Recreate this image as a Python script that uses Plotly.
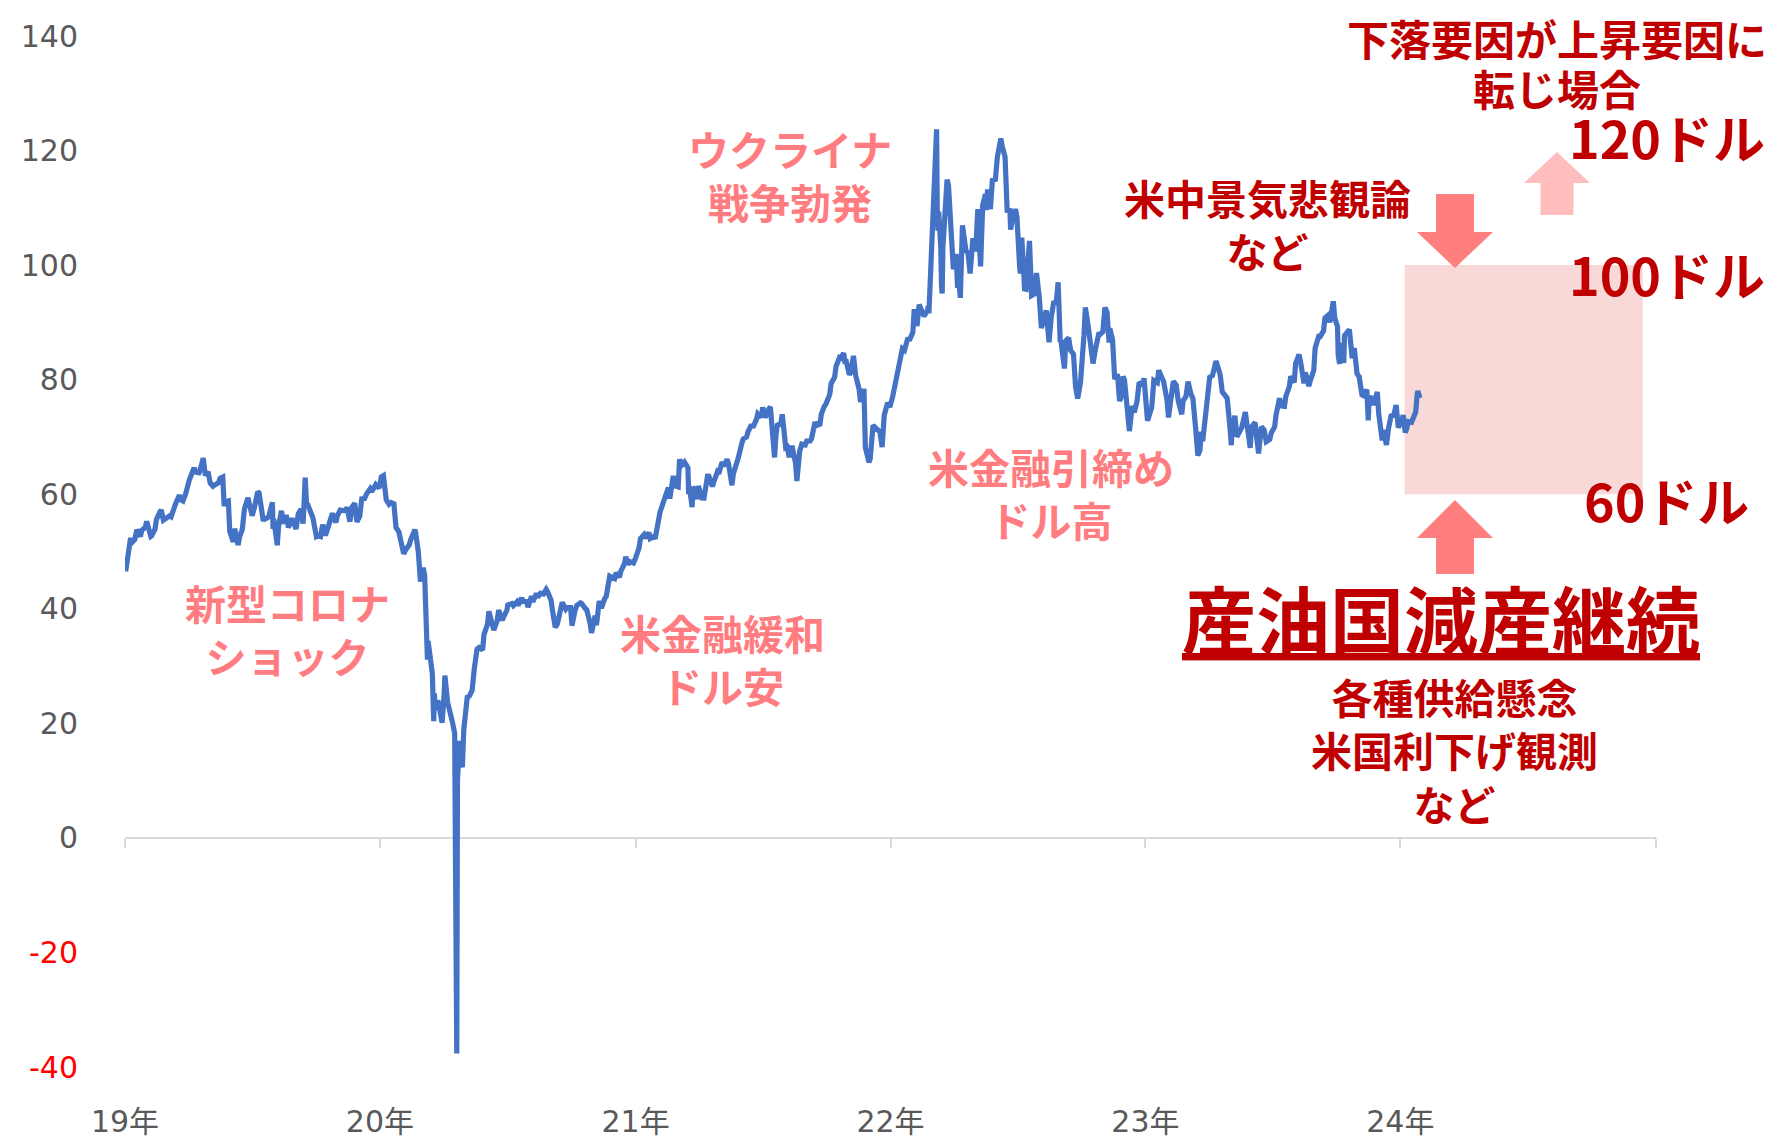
import plotly.graph_objects as go

# ---------------- data (WTI crude, USD/bbl) ----------------
dates_2019 = ["2019-01-02","2019-01-04","2019-01-09","2019-01-11","2019-01-15","2019-01-18","2019-01-23","2019-01-25","2019-01-30","2019-02-01",
"2019-02-07","2019-02-08","2019-02-13","2019-02-15","2019-02-20","2019-02-22","2019-02-25","2019-03-01","2019-03-06","2019-03-08",
"2019-03-13","2019-03-15","2019-03-20","2019-03-22","2019-03-25","2019-03-29","2019-04-03","2019-04-05","2019-04-10","2019-04-12",
"2019-04-17","2019-04-18","2019-04-23","2019-04-26","2019-04-30","2019-05-03","2019-05-07","2019-05-10","2019-05-15","2019-05-17",
"2019-05-21","2019-05-23","2019-05-24","2019-05-29","2019-05-31","2019-06-05","2019-06-07","2019-06-12","2019-06-14","2019-06-18",
"2019-06-20","2019-06-21","2019-06-26","2019-06-28","2019-07-02","2019-07-05","2019-07-10","2019-07-12","2019-07-16","2019-07-18",
"2019-07-19","2019-07-24","2019-07-26","2019-07-31","2019-08-01","2019-08-02","2019-08-07","2019-08-09","2019-08-13","2019-08-16",
"2019-08-20","2019-08-23","2019-08-28","2019-08-30","2019-09-03","2019-09-06","2019-09-10","2019-09-13","2019-09-16","2019-09-18",
"2019-09-20","2019-09-25","2019-09-27","2019-10-02","2019-10-04","2019-10-08","2019-10-11","2019-10-15","2019-10-18","2019-10-23",
"2019-10-25","2019-10-30","2019-11-01","2019-11-05","2019-11-08","2019-11-13","2019-11-15","2019-11-19","2019-11-22","2019-11-26",
"2019-11-29","2019-12-03","2019-12-06","2019-12-10","2019-12-13","2019-12-18","2019-12-20","2019-12-26","2019-12-31"]
wti_2019 = [46.54,47.96,52.36,51.59,52.11,53.80,52.62,53.69,54.23,55.26,
52.64,52.72,53.90,55.59,56.92,57.26,55.48,55.80,56.22,56.07,
58.26,58.52,59.83,59.04,58.82,60.14,62.46,63.08,64.61,63.89,
63.76,64.00,66.30,63.30,63.91,61.94,61.40,61.66,62.02,62.76,
62.99,57.91,58.63,58.81,53.50,51.68,53.99,51.14,52.51,53.90,
56.65,57.43,59.38,58.47,56.25,57.51,60.43,60.21,57.62,55.30,
55.63,55.88,56.20,58.58,53.95,55.66,51.09,54.50,57.10,54.87,
56.34,54.17,55.78,55.10,53.94,56.52,57.40,54.85,62.90,58.11,
58.09,56.49,55.91,52.64,52.81,52.63,54.70,52.81,53.78,55.97,
56.66,55.06,56.20,57.23,57.24,57.12,57.72,55.21,57.77,58.41,
55.17,56.10,59.20,59.24,60.07,60.93,60.44,61.68,61.06]

dates_2020 = ["2020-01-03","2020-01-06","2020-01-08","2020-01-10","2020-01-14","2020-01-17","2020-01-21","2020-01-24","2020-01-28","2020-01-31",
"2020-02-04","2020-02-07","2020-02-12","2020-02-14","2020-02-20","2020-02-21","2020-02-25","2020-02-28","2020-03-03","2020-03-05",
"2020-03-06","2020-03-09","2020-03-10","2020-03-13","2020-03-16","2020-03-18","2020-03-19","2020-03-20","2020-03-24","2020-03-27",
"2020-03-30","2020-04-02","2020-04-03","2020-04-07","2020-04-09","2020-04-14","2020-04-17","2020-04-20","2020-04-21","2020-04-22",
"2020-04-24","2020-04-27","2020-04-28","2020-04-30","2020-05-01","2020-05-05","2020-05-08","2020-05-12","2020-05-15","2020-05-19",
"2020-05-22","2020-05-27","2020-05-29","2020-06-03","2020-06-05","2020-06-08","2020-06-11","2020-06-12","2020-06-17","2020-06-19",
"2020-06-24","2020-06-26","2020-07-01","2020-07-02","2020-07-08","2020-07-10","2020-07-15","2020-07-17","2020-07-22","2020-07-24",
"2020-07-29","2020-07-31","2020-08-05","2020-08-07","2020-08-12","2020-08-14","2020-08-19","2020-08-21","2020-08-26","2020-08-28",
"2020-09-02","2020-09-04","2020-09-08","2020-09-11","2020-09-16","2020-09-18","2020-09-23","2020-09-25","2020-09-30","2020-10-02",
"2020-10-06","2020-10-09","2020-10-14","2020-10-16","2020-10-21","2020-10-23","2020-10-28","2020-10-30","2020-11-04","2020-11-06",
"2020-11-10","2020-11-13","2020-11-18","2020-11-20","2020-11-25","2020-11-27","2020-12-02","2020-12-04","2020-12-09","2020-12-11",
"2020-12-16","2020-12-18","2020-12-21","2020-12-24","2020-12-29","2020-12-31"]
wti_2020 = [63.05,63.27,59.61,59.04,58.23,58.54,58.34,54.19,53.48,51.56,
49.61,50.32,51.17,52.05,53.78,53.38,49.90,44.76,47.18,45.90,
41.28,31.13,34.36,31.73,28.70,20.37,25.22,22.43,24.01,21.51,
20.09,25.32,28.34,23.63,22.76,20.11,18.27,-37.63,10.01,13.78,
16.94,12.78,12.34,18.84,19.78,24.56,24.74,25.78,29.43,32.96,
33.25,32.81,35.49,37.29,39.55,38.19,36.34,36.26,37.96,39.75,
38.01,38.49,39.82,40.65,40.90,40.55,41.20,40.59,41.90,41.29,
41.27,40.27,42.19,41.22,42.67,42.01,42.93,42.34,43.39,42.97,
41.51,39.77,36.76,37.33,40.16,41.11,39.93,40.25,40.22,37.05,
39.57,40.60,41.04,40.88,40.03,39.85,37.39,35.79,38.79,37.14,
41.36,40.13,41.82,42.15,45.71,45.53,45.28,46.26,45.52,46.57,
47.82,49.10,47.74,48.23,48.00,48.52]

dates_2021 = ["2021-01-06","2021-01-08","2021-01-13","2021-01-15","2021-01-20","2021-01-22","2021-01-27","2021-01-29","2021-02-03","2021-02-05",
"2021-02-10","2021-02-12","2021-02-17","2021-02-19","2021-02-24","2021-02-26","2021-03-03","2021-03-05","2021-03-08","2021-03-12",
"2021-03-17","2021-03-18","2021-03-19","2021-03-23","2021-03-24","2021-03-26","2021-03-31","2021-04-01","2021-04-06","2021-04-09",
"2021-04-14","2021-04-16","2021-04-21","2021-04-23","2021-04-28","2021-04-30","2021-05-05","2021-05-07","2021-05-12","2021-05-14",
"2021-05-19","2021-05-21","2021-05-26","2021-05-28","2021-06-02","2021-06-04","2021-06-09","2021-06-11","2021-06-16","2021-06-18",
"2021-06-23","2021-06-25","2021-06-30","2021-07-02","2021-07-06","2021-07-09","2021-07-13","2021-07-16","2021-07-19","2021-07-21",
"2021-07-23","2021-07-28","2021-07-30","2021-08-04","2021-08-06","2021-08-09","2021-08-13","2021-08-18","2021-08-20","2021-08-24",
"2021-08-27","2021-09-01","2021-09-03","2021-09-08","2021-09-10","2021-09-15","2021-09-17","2021-09-22","2021-09-24","2021-09-28",
"2021-10-01","2021-10-06","2021-10-08","2021-10-13","2021-10-15","2021-10-20","2021-10-22","2021-10-26","2021-10-28","2021-10-29",
"2021-11-03","2021-11-05","2021-11-09","2021-11-12","2021-11-17","2021-11-19","2021-11-24","2021-11-26","2021-11-30","2021-12-01",
"2021-12-03","2021-12-07","2021-12-10","2021-12-15","2021-12-17","2021-12-20","2021-12-23","2021-12-28","2021-12-31"]
wti_2021 = [50.63,52.24,52.91,52.36,53.31,52.27,52.61,52.20,55.69,56.85,
58.68,59.47,61.14,59.24,63.22,61.50,61.28,66.09,65.05,65.61,
64.60,60.00,61.42,57.76,61.18,60.97,59.16,61.45,59.33,59.32,
63.15,63.13,61.35,62.14,63.86,63.58,65.63,64.90,66.08,65.37,
61.57,63.58,66.21,66.32,68.83,69.62,70.00,70.91,72.15,71.64,
73.08,74.05,73.47,75.16,73.37,74.56,75.25,71.81,66.42,70.30,
72.07,72.39,73.95,68.15,68.28,66.48,68.44,65.46,62.32,67.54,
68.74,68.59,69.29,69.30,69.72,72.61,71.97,72.23,73.98,75.29,
75.88,77.43,79.35,80.44,82.28,83.87,83.76,84.65,82.81,83.57,
80.86,81.27,84.15,80.79,78.36,76.10,78.39,68.15,66.18,65.57,
66.26,72.05,71.67,70.87,70.86,68.23,73.79,75.98,75.21]

dates_2022 = ["2022-01-04","2022-01-07","2022-01-11","2022-01-14","2022-01-18","2022-01-21","2022-01-26","2022-01-28","2022-02-02","2022-02-04",
"2022-02-08","2022-02-11","2022-02-15","2022-02-18","2022-02-23","2022-02-24","2022-02-25","2022-03-01","2022-03-03","2022-03-04",
"2022-03-07","2022-03-08","2022-03-09","2022-03-10","2022-03-11","2022-03-14","2022-03-15","2022-03-16","2022-03-17","2022-03-18",
"2022-03-21","2022-03-23","2022-03-25","2022-03-28","2022-03-29","2022-03-31","2022-04-01","2022-04-05","2022-04-07","2022-04-08",
"2022-04-11","2022-04-12","2022-04-14","2022-04-19","2022-04-22","2022-04-25","2022-04-29","2022-05-03","2022-05-06","2022-05-10",
"2022-05-13","2022-05-17","2022-05-18","2022-05-20","2022-05-24","2022-05-27","2022-05-31","2022-06-03","2022-06-08","2022-06-10",
"2022-06-14","2022-06-17","2022-06-21","2022-06-22","2022-06-24","2022-06-29","2022-07-01","2022-07-05","2022-07-06","2022-07-08",
"2022-07-12","2022-07-14","2022-07-15","2022-07-19","2022-07-22","2022-07-26","2022-07-29","2022-08-02","2022-08-05","2022-08-09",
"2022-08-12","2022-08-16","2022-08-19","2022-08-23","2022-08-26","2022-08-29","2022-09-01","2022-09-02","2022-09-07","2022-09-09",
"2022-09-13","2022-09-16","2022-09-20","2022-09-23","2022-09-26","2022-09-30","2022-10-05","2022-10-07","2022-10-11","2022-10-14",
"2022-10-18","2022-10-21","2022-10-26","2022-10-28","2022-11-01","2022-11-04","2022-11-07","2022-11-10","2022-11-11","2022-11-15",
"2022-11-18","2022-11-22","2022-11-25","2022-11-28","2022-11-30","2022-12-02","2022-12-06","2022-12-09","2022-12-13","2022-12-16",
"2022-12-20","2022-12-23","2022-12-28","2022-12-30"]
wti_2022 = [76.99,78.90,81.22,83.82,85.43,85.14,87.35,86.82,88.26,92.31,
89.36,93.10,92.07,91.07,92.10,92.81,91.59,103.41,107.67,115.68,
119.40,123.70,108.70,106.02,109.33,103.01,96.44,95.04,102.98,104.70,
112.12,114.93,113.90,105.96,104.24,100.28,99.27,101.96,96.03,98.26,
94.29,100.60,106.95,102.56,102.07,98.54,104.69,102.41,109.77,99.76,
110.49,112.40,109.59,113.23,109.77,115.07,114.67,118.87,122.11,120.67,
118.93,109.56,109.52,106.19,107.62,109.78,108.43,99.50,98.53,104.79,
95.84,95.78,97.59,104.22,94.70,94.98,98.62,94.42,89.01,90.50,
92.09,86.53,90.77,93.74,93.06,97.01,86.61,86.87,81.94,86.79,
87.31,85.11,84.45,78.74,76.71,79.49,87.76,92.64,89.35,85.61,
82.82,85.05,87.91,87.90,88.37,92.61,91.79,86.47,88.96,86.92,
80.08,80.95,76.28,77.24,80.55,79.98,74.25,71.02,75.39,74.29,
76.23,79.56,78.96,80.26]

dates_2023 = ["2023-01-04","2023-01-06","2023-01-10","2023-01-13","2023-01-18","2023-01-20","2023-01-24","2023-01-27","2023-02-01","2023-02-03",
"2023-02-07","2023-02-10","2023-02-14","2023-02-17","2023-02-22","2023-02-24","2023-02-28","2023-03-03","2023-03-07","2023-03-10",
"2023-03-14","2023-03-15","2023-03-17","2023-03-20","2023-03-22","2023-03-24","2023-03-28","2023-03-31","2023-04-03","2023-04-07",
"2023-04-12","2023-04-14","2023-04-18","2023-04-21","2023-04-25","2023-04-28","2023-05-02","2023-05-04","2023-05-05","2023-05-09",
"2023-05-12","2023-05-16","2023-05-19","2023-05-24","2023-05-26","2023-05-31","2023-06-02","2023-06-07","2023-06-09","2023-06-12",
"2023-06-16","2023-06-20","2023-06-23","2023-06-28","2023-06-30","2023-07-05","2023-07-07","2023-07-12","2023-07-14","2023-07-19",
"2023-07-21","2023-07-26","2023-07-28","2023-08-02","2023-08-04","2023-08-09","2023-08-11","2023-08-16","2023-08-18","2023-08-23",
"2023-08-25","2023-08-30","2023-09-01","2023-09-06","2023-09-08","2023-09-13","2023-09-15","2023-09-19","2023-09-22","2023-09-27",
"2023-09-29","2023-10-03","2023-10-04","2023-10-06","2023-10-09","2023-10-12","2023-10-13","2023-10-18","2023-10-20","2023-10-24",
"2023-10-27","2023-10-31","2023-11-03","2023-11-07","2023-11-10","2023-11-14","2023-11-16","2023-11-17","2023-11-22","2023-11-24",
"2023-11-29","2023-12-01","2023-12-06","2023-12-08","2023-12-12","2023-12-15","2023-12-19","2023-12-22","2023-12-26","2023-12-29"]
wti_2023 = [72.84,73.77,75.12,79.86,79.48,81.64,80.13,79.68,76.41,73.39,
77.14,79.72,79.06,76.34,73.95,76.32,77.05,79.68,77.58,76.68,
71.33,67.61,66.74,67.64,70.90,69.26,73.20,75.67,80.42,80.70,
83.26,82.52,80.86,77.87,77.07,76.78,71.66,68.56,71.34,73.71,
70.04,70.86,71.69,74.34,72.67,68.09,71.74,72.53,70.17,67.12,
71.78,71.19,69.16,69.56,70.64,71.79,73.86,76.75,75.42,75.35,
77.07,78.78,80.58,79.49,82.82,84.40,83.19,79.38,81.25,78.89,
79.83,81.63,85.55,87.54,87.51,88.52,90.77,91.20,90.03,93.68,
90.79,89.23,84.22,82.79,86.38,82.91,87.69,88.32,88.75,83.74,
85.54,81.02,80.51,77.37,77.17,78.26,72.90,75.89,77.10,75.54,
77.86,74.07,69.38,71.23,68.61,71.43,73.94,73.56,75.57,71.65]

dates_2024 = ["2024-01-03","2024-01-05","2024-01-08","2024-01-10","2024-01-12","2024-01-17","2024-01-19","2024-01-23","2024-01-25","2024-01-26","2024-01-29"]
wti_2024 = [72.70,73.81,70.77,71.37,72.68,72.56,73.41,74.37,77.36,78.01,76.78]

year_ticks = ["2019-01-01","2020-01-01","2021-01-01","2022-01-01","2023-01-01","2024-01-01"]
year_labels = ["19年","20年","21年","22年","23年","24年"]
y_ticks = [-40,-20,0,20,40,60,80,100,120,140]

# scenario band (60-100 dollars) for 2024
band_low, band_high = 60, 100
band_start, band_end = "2024-01-07", "2024-12-13"

# ---------------- layout constants ----------------
W, H = 1781, 1146
L, R, T, B = 125, 125, 36, 79
PW, PH = W - L - R, H - T - B
X_RANGE = ["2019-01-01", "2025-01-01"]
Y_RANGE = [-40, 140]

def px(xp):
    return (xp - L) / PW

def py(yp):
    return (H - B - yp) / PH

dates = dates_2019 + dates_2020 + dates_2021 + dates_2022 + dates_2023 + dates_2024
wti = wti_2019 + wti_2020 + wti_2021 + wti_2022 + wti_2023 + wti_2024

CJK = "Noto Sans CJK JP"
SALMON = "#FF7C80"
DARK = "#C00000"
GRAY = "#595959"

fig = go.Figure()
fig.add_trace(go.Scatter(x=dates, y=wti, mode="lines",
                         line=dict(color="#4472C4", width=5.2),
                         showlegend=False, hoverinfo="skip"))
# helper trace so the zero-line axis renders
fig.add_trace(go.Scatter(x=[X_RANGE[0]], y=[0], xaxis="x2", mode="markers",
                         marker=dict(opacity=0), showlegend=False, hoverinfo="skip"))

ytext = [f'<span style="color:#FF0000">{v}</span>' if v < 0 else str(v) for v in y_ticks]

fig.update_layout(
    width=W, height=H,
    margin=dict(l=L, r=R, t=T, b=B, autoexpand=False),
    paper_bgcolor="white", plot_bgcolor="white",
    xaxis=dict(range=X_RANGE, type="date", tickvals=year_ticks, ticktext=year_labels,
               showgrid=False, zeroline=False, showline=False, ticks="",
               ticklabelstandoff=34, automargin=False,
               tickfont=dict(family="DejaVu Sans, " + CJK, size=30, color=GRAY)),
    xaxis2=dict(range=X_RANGE, type="date", overlaying="x", anchor="free",
                position=(0 - Y_RANGE[0]) / (Y_RANGE[1] - Y_RANGE[0]),
                tickvals=year_ticks + [X_RANGE[1]], showticklabels=False,
                ticks="outside", ticklen=9, tickwidth=2, tickcolor="#D9D9D9",
                showline=True, linecolor="#D9D9D9", linewidth=2, automargin=False,
                showgrid=False, zeroline=False, layer="below traces"),
    yaxis=dict(range=Y_RANGE, tickvals=y_ticks, ticktext=ytext,
               showgrid=False, zeroline=False, showline=False, ticks="",
               ticklabelstandoff=46, automargin=False,
               tickfont=dict(family="DejaVu Sans", size=30, color=GRAY)),
)

# scenario band
fig.add_shape(type="rect", xref="x", yref="y", x0=band_start, x1=band_end,
              y0=band_low, y1=band_high, fillcolor="#F9D9D8", line_width=0, layer="below")

def arrow_path(cx, stem_half, head_half, tip_y, base_y, end_y):
    pts = [(cx, tip_y), (cx + head_half, base_y), (cx + stem_half, base_y),
           (cx + stem_half, end_y), (cx - stem_half, end_y), (cx - stem_half, base_y),
           (cx - head_half, base_y)]
    return "M " + " L ".join(f"{px(x):.5f},{py(y):.5f}" for x, y in pts) + " Z"

# down arrow above band, up arrow below band, small light arrow
fig.add_shape(type="path", xref="paper", yref="paper",
              path=arrow_path(1455, 19, 38, 268, 232, 194), fillcolor="#FF7F7F", line_width=0)
fig.add_shape(type="path", xref="paper", yref="paper",
              path=arrow_path(1455, 19, 38, 500, 538, 574), fillcolor="#FF7F7F", line_width=0)
fig.add_shape(type="path", xref="paper", yref="paper",
              path=arrow_path(1557, 16.5, 33, 152, 183, 215), fillcolor="#FFBDBD", line_width=0)

def note(text, x, y, size, color):
    fig.add_annotation(text=text, x=px(x), y=py(y), xref="paper", yref="paper",
                       showarrow=False, xanchor="center", yanchor="middle", align="center",
                       font=dict(family=CJK, size=size, color=color, weight="bold"))

note("ウクライナ<br>戦争勃発", 790, 174, 41, SALMON)
note("新型コロナ<br>ショック", 287, 628, 41, SALMON)
note("米金融緩和<br>ドル安", 722, 658, 41, SALMON)
note("米金融引締め<br>ドル高", 1051, 492, 41, SALMON)
note("米中景気悲観論<br>など", 1267, 224, 41, DARK)
note("下落要因が上昇要因に", 1557, 37, 42, DARK)
note("転じ場合", 1557, 87, 42, DARK)
note("120ドル", 1667, 136, 52, DARK)
note("100ドル", 1667, 273, 52, DARK)
note("60ドル", 1666, 500, 52, DARK)
note("<u>産油国減産継続</u>", 1441, 616, 74, DARK)
note("各種供給懸念<br>米国利下げ観測<br>など", 1454, 749, 41, DARK)

# remove the browser's default 8px body margin so the figure sits at the page origin
fig.write_html("out.html", config={"displayModeBar": False},
               post_script="document.body.style.margin='0';")
